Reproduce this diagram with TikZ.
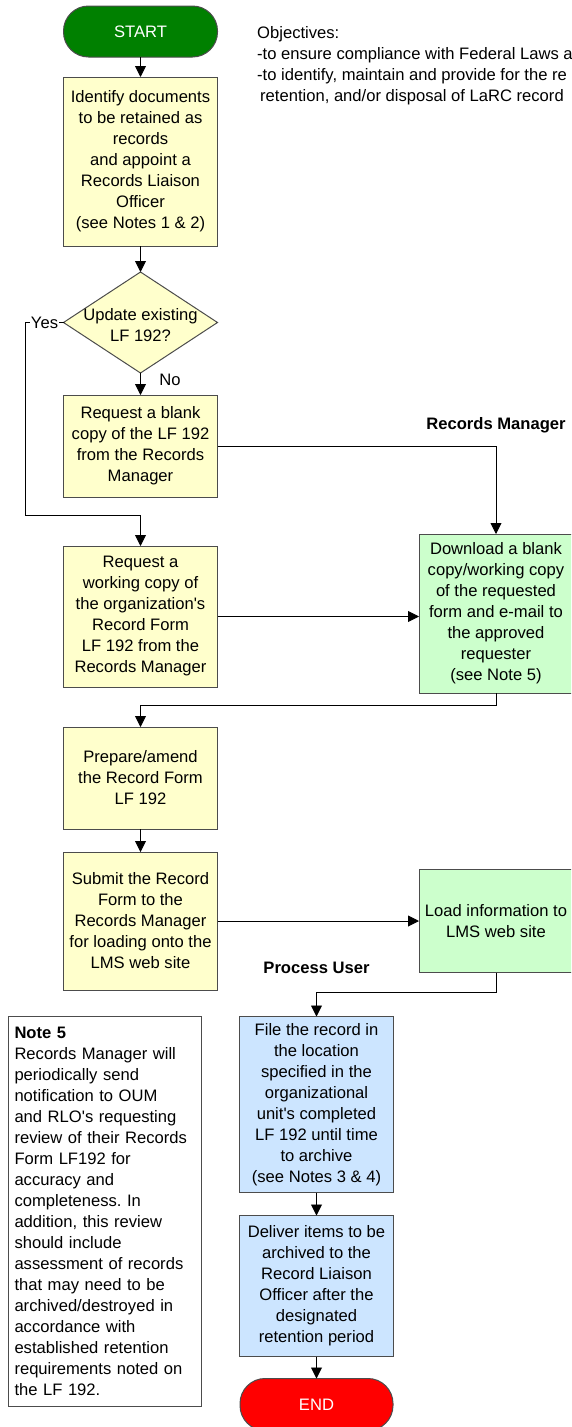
\documentclass[tikz,border=0pt]{standalone}
\usepackage{fontspec}
\setmainfont{Liberation Sans}
\usetikzlibrary{shapes,positioning,calc,arrows.meta}
\usepackage{xcolor}
\definecolor{boxyellow}{RGB}{255,255,204}
\definecolor{boxgreen}{RGB}{204,255,204}
\definecolor{boxblue}{RGB}{204,229,255}
\definecolor{startgreen}{RGB}{0,128,0}
\frenchspacing

\begin{document}
\begin{tikzpicture}[x=1pt,y=-1pt,
  every node/.style={align=center,font=\fontsize{16.6}{21}\selectfont,},%
  e/.style={-{Triangle[length=11pt,width=11pt]},line width=.9pt,draw=black},%
  bx/.style={draw=black!70,line width=1pt,minimum width=154pt,inner sep=2pt,outer sep=0pt,},%
  ye/.style={bx,fill=boxyellow},%
  gr/.style={bx,fill=boxgreen},%
  bl/.style={bx,fill=boxblue},%
  pl/.style={bx,rounded corners=25pt,minimum height=51pt,text=white},%
  dm/.style={diamond,draw=black!70,line width=1pt,fill=boxyellow,%
    minimum width=154pt,minimum height=101pt,inner sep=0pt,outer sep=0pt},%
  nt/.style={draw=black!70,line width=1pt,fill=white,text width=181pt,%
    align=left,minimum height=390pt,inner sep=6pt},%
  lb/.style={font=\fontsize{16.6}{21}\selectfont\bfseries},%
  ]
  \useasboundingbox (0,0) rectangle (571,1427);
  \clip (0,0) rectangle (571,1427);

  \node (start) [pl,fill=startgreen] at (140.5,31.5) {START};

  \node (obj) [anchor=north west,inner sep=0pt,align=left] at (257,26) {Objectives:\\%
    -to ensure compliance with Federal Laws a\\%
    -to identify, maintain and provide for the re\\%
    \hspace*{3pt}retention, and/or disposal of LaRC record};

  \node (ident) [ye,below=20pt of start,minimum height=169pt%
  ] {Identify documents\\to be retained as\\records\\and appoint a\\Records Liaison\\Officer\\(see Notes 1 \& 2)};

  \node (dec) [dm,below=26pt of ident] {};
  \node (dectext) [yshift=-3pt] at (dec) {Update existing\\LF 192?};

  \node (blank) [ye,below=22pt of dec,minimum height=102pt%
  ] {Request a blank\\copy of the LF 192\\from the Records\\Manager};

  \node (working) [ye,below=49pt of blank,minimum height=141pt%
  ] {Request a\\working copy of\\the organization\textquotesingle s\\Record Form\\LF 192 from the\\Records Manager};

  \node (prepare) [ye,below=40pt of working,minimum height=102pt%
  ] {Prepare/amend\\the Record Form\\LF 192};

  \node (submit) [ye,below=23pt of prepare,minimum height=138pt%
  ] {Submit the Record\\Form to the\\Records Manager\\for loading onto the\\LMS web site};

  \node (download) [gr,right=201.5pt of working,yshift=3pt,minimum height=159pt%
  ] {Download a blank\\copy/working copy\\of the requested\\form and e-mail to\\the approved\\requester\\(see Note 5)};

  \node (load) [gr,right=201.5pt of submit,minimum height=103pt%
  ] {Load information to\\LMS web site};

  \node (file) [bl,below=44pt of load,xshift=-179.5pt,minimum height=176pt%
  ] {File the record in\\the location\\specified in the\\organizational\\unit\textquotesingle s completed\\LF 192 until time\\to archive\\(see Notes 3 \& 4)};

  \node (deliver) [bl,below=23pt of file,minimum height=141pt%
  ] {Deliver items to be\\archived to the\\Record Liaison\\Officer after the\\designated\\retention period};

  \node (finish) [pl,fill=red,below=22pt of deliver,minimum width=153pt,minimum height=52pt] {END};

  \node (rmlabel) [lb] at (496,425) {Records Manager};
  \node (pulabel) [lb] at (316.5,968) {Process User};

  \node (note5) [nt,anchor=north west] at (8,1016) {\textbf{Note 5}\\Records Manager will\\%
    periodically send\\notification to OUM\\and RLO\textquotesingle s requesting\\review of their Records\\%
    Form LF192 for\\accuracy and\\completeness. In\\addition, this review\\should include\\%
    assessment of records\\that may need to be\\archived/destroyed in\\accordance with\\%
    established retention\\requirements noted on\\the LF 192.};

  \coordinate (yesturn) at (25.5,515);
  \draw [e] (start) -- (ident);
  \draw [e] (ident) -- (dec);
  \draw [e] (dec) -- node [pos=.3,right=15pt] {No} (blank);
  \draw [e] (dec.west) -| node [pos=.25,fill=white,inner sep=1pt] {Yes} (yesturn) -| (working);
  \draw [e] (blank) -| (download);
  \draw [e] (working.east) -- (working.east -| download.west);
  \draw [e] (download.south) -- ++(0,12) -| (prepare);
  \draw [e] (prepare) -- (submit);
  \draw [e] (submit) -- (load);
  \draw [e] (load.south) -- ++(0,20) -| (file);
  \draw [e] (file) -- (deliver);
  \draw [e] (deliver) -- (finish);
\end{tikzpicture}
\end{document}
